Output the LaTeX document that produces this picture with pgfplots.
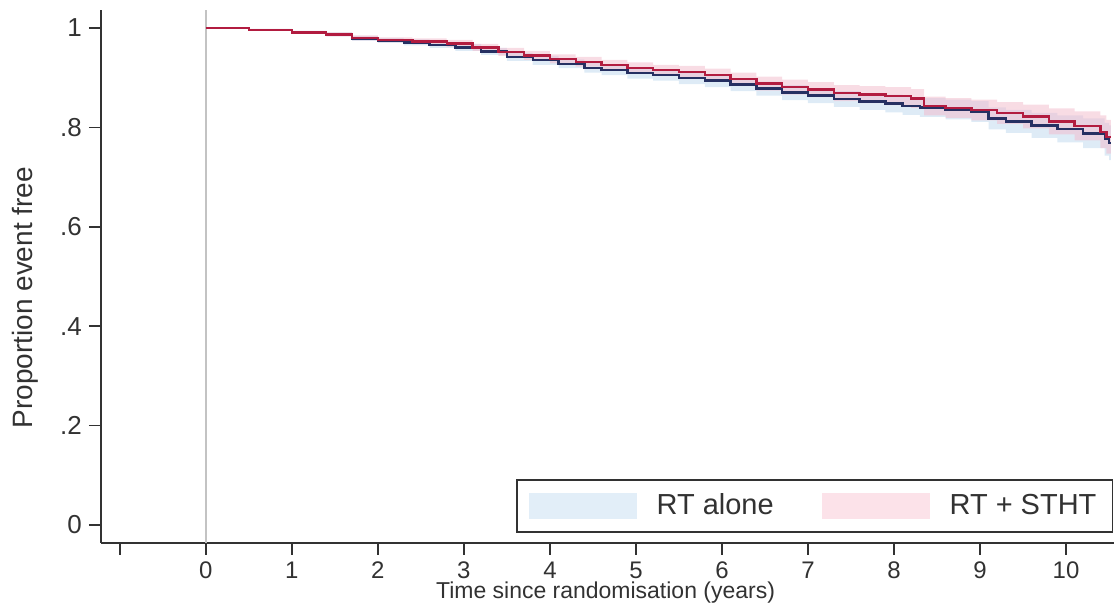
\documentclass[border=0pt]{standalone}
\usepackage{fontspec}
\setmainfont{Liberation Sans}
\usepackage{pgfplots}
\usepackage{pgfplotstable}
\pgfplotsset{compat=1.18}
\usepgfplotslibrary{fillbetween}

\definecolor{rtblue}{RGB}{38,48,98}
\definecolor{rtred}{RGB}{178,28,64}
\definecolor{bandblue}{RGB}{200,222,240}
\definecolor{bandred}{RGB}{242,185,202}
\definecolor{legblue}{RGB}{226,238,248}
\definecolor{legred}{RGB}{252,226,233}
\definecolor{axgray}{RGB}{50,50,50}
\definecolor{refgray}{RGB}{195,195,195}

% t = years, s = proportion event free, lo/hi = 95% band
\pgfplotstableread{
t s lo hi
0 1.000 1.000 1.000
0.5 0.996 0.994 0.998
1.0 0.991 0.988 0.994
1.4 0.987 0.983 0.991
1.7 0.979 0.974 0.984
2.0 0.975 0.970 0.980
2.3 0.971 0.965 0.977
2.6 0.966 0.960 0.972
2.9 0.961 0.954 0.968
3.2 0.953 0.946 0.960
3.5 0.942 0.934 0.950
3.8 0.935 0.926 0.944
4.1 0.928 0.919 0.937
4.4 0.920 0.910 0.930
4.6 0.915 0.905 0.925
4.9 0.909 0.898 0.920
5.2 0.905 0.894 0.916
5.5 0.899 0.887 0.911
5.8 0.894 0.881 0.907
6.1 0.886 0.873 0.899
6.4 0.878 0.864 0.892
6.7 0.870 0.855 0.885
7.0 0.864 0.849 0.879
7.3 0.857 0.841 0.873
7.6 0.852 0.835 0.869
7.9 0.848 0.830 0.866
8.1 0.843 0.825 0.861
8.3 0.840 0.821 0.859
8.6 0.836 0.816 0.856
8.9 0.832 0.811 0.853
9.1 0.818 0.796 0.840
9.3 0.812 0.789 0.835
9.6 0.804 0.779 0.829
9.9 0.797 0.770 0.824
10.2 0.788 0.758 0.818
10.45 0.776 0.743 0.809
10.5 0.769 0.734 0.804
10.52 0.769 0.734 0.804
}\rtalone

\pgfplotstableread{
t s lo hi
0 1.000 1.000 1.000
0.5 0.996 0.994 0.998
1.0 0.991 0.988 0.994
1.4 0.987 0.983 0.991
1.7 0.980 0.975 0.985
2.0 0.976 0.971 0.981
2.4 0.973 0.967 0.979
2.8 0.969 0.962 0.976
3.1 0.961 0.954 0.968
3.4 0.952 0.944 0.960
3.7 0.945 0.936 0.954
4.0 0.938 0.929 0.947
4.3 0.932 0.922 0.942
4.6 0.926 0.916 0.936
4.9 0.920 0.909 0.931
5.2 0.915 0.904 0.926
5.5 0.912 0.900 0.924
5.8 0.905 0.892 0.918
6.1 0.897 0.884 0.910
6.4 0.888 0.874 0.902
6.7 0.881 0.866 0.896
7.0 0.876 0.861 0.891
7.3 0.869 0.853 0.885
7.6 0.866 0.849 0.883
7.9 0.863 0.845 0.881
8.2 0.858 0.839 0.877
8.35 0.843 0.824 0.862
8.6 0.839 0.819 0.859
8.9 0.835 0.814 0.856
9.2 0.829 0.807 0.851
9.5 0.822 0.798 0.846
9.8 0.812 0.786 0.838
10.1 0.803 0.774 0.832
10.4 0.791 0.758 0.824
10.47 0.781 0.747 0.815
10.52 0.781 0.747 0.815
}\rtstht

\begin{document}
\begin{tikzpicture}
\begin{axis}[
    scale only axis,
    width=507pt, height=266.5pt,
    xmin=-1.22, xmax=10.56,
    ymin=-0.036, ymax=1.036,
    axis x line*=bottom, axis y line*=left,
    axis line style={-, axgray, line width=0.8pt},
    tick style={axgray, line width=0.8pt},
    tick align=outside, major tick length=6pt,
    xtick={-1,0,1,2,3,4,5,6,7,8,9,10},
    xticklabels={,0,1,2,3,4,5,6,7,8,9,10},
    ytick={0,0.2,0.4,0.6,0.8,1},
    yticklabels={0,.2,.4,.6,.8,1},
    /pgf/number format/assume math mode=true,
    xticklabel style={font=\fontsize{12}{14}\selectfont, text=axgray},
    yticklabel style={font=\fontsize{13}{15}\selectfont, text=axgray},
    xlabel={Time since randomisation (years)},
    ylabel={Proportion event free},
    xlabel style={font=\fontsize{11.5}{13}\selectfont, text=axgray, at={(axis description cs:0.498,-0.094)}, anchor=center},
    ylabel style={font=\fontsize{14}{16}\selectfont, text=axgray, at={(axis description cs:-0.075,0.46)}, anchor=center},
    legend columns=2,
    legend style={at={(axis description cs:1,0)}, anchor=south east,
        xshift=-0.5pt, yshift=5pt, draw=axgray, line width=0.8pt,
        inner xsep=6pt, inner ysep=5pt,
        font=\fontsize{14.5}{16}\selectfont, text=axgray,
        /tikz/every even column/.append style={column sep=22pt}},
    legend image code/.code={\fill[#1, draw=none] (0pt,-6.5pt) rectangle (54pt,6.5pt);
        \path[draw=none, fill=none] (0pt,0pt) rectangle (62pt,0.1pt);},
    clip=false,
]
\path (rel axis cs:-0.0996,-0.120) rectangle (rel axis cs:1,1.019);
\draw[refgray, line width=0.8pt] (axis cs:0,-0.036) -- (axis cs:0,1.036);

\addplot[const plot, draw=none, name path=bhi, forget plot] table[x=t, y=hi] {\rtalone};
\addplot[const plot, draw=none, name path=blo, forget plot] table[x=t, y=lo] {\rtalone};
\addplot[bandblue, fill opacity=0.6, draw=none, forget plot] fill between[of=bhi and blo];

\addplot[const plot, draw=none, name path=rhi, forget plot] table[x=t, y=hi] {\rtstht};
\addplot[const plot, draw=none, name path=rlo, forget plot] table[x=t, y=lo] {\rtstht};
\addplot[bandred, fill opacity=0.5, draw=none, forget plot] fill between[of=rhi and rlo];

\addplot[const plot, rtblue, line width=1.2pt, forget plot] table[x=t, y=s] {\rtalone};
\addplot[const plot, rtred, line width=1.2pt, forget plot] table[x=t, y=s] {\rtstht};

\addlegendimage{fill=legblue, draw=none}
\addlegendentry{RT alone}
\addlegendimage{fill=legred, draw=none}
\addlegendentry{RT + STHT}
\end{axis}
\end{tikzpicture}
\end{document}
